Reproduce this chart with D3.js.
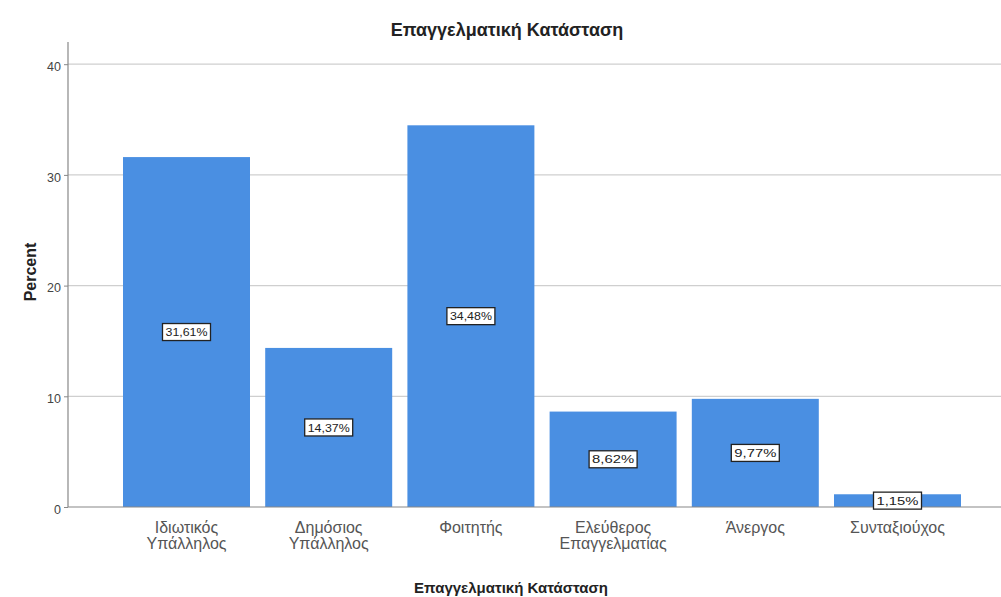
<!DOCTYPE html>
<html>
<head>
<meta charset="utf-8">
<script src="https://cdn.jsdelivr.net/npm/d3@7"></script>
<style>
  html, body { margin: 0; padding: 0; background: #fff; }
  svg { display: block; font-family: "Liberation Sans", Arial, sans-serif; }
</style>
</head>
<body>
<svg id="chart" width="1001" height="597"></svg>
<script>
// Occupational status distribution (percent of respondents)
const categories = [
  ["Ιδιωτικός", "Υπάλληλος"],
  ["Δημόσιος", "Υπάλληλος"],
  ["Φοιτητής"],
  ["Ελεύθερος", "Επαγγελματίας"],
  ["Άνεργος"],
  ["Συνταξιούχος"]
];
const percents = [31.61, 14.37, 34.48, 8.62, 9.77, 1.15];
const yTicks = [0, 10, 20, 30, 40];
const chartTitle = "Επαγγελματική Κατάσταση";
const xTitle = "Επαγγελματική Κατάσταση";
const yTitle = "Percent";

const svg = d3.select("#chart");
const plot = { left: 68, right: 1001, top: 42, bottom: 507 };

const keys = categories.map((c, i) => i);
const x = d3.scaleBand()
  .domain(keys)
  .range([115.4, 968.6])
  .paddingInner(0.107)
  .paddingOuter(0.0535);

const y = d3.scaleLinear()
  .domain([0, 42])
  .range([plot.bottom, plot.bottom - 42 * 11.07]);

// Horizontal gridlines
svg.append("g")
  .selectAll("line")
  .data(yTicks.filter(t => t > 0))
  .join("line")
  .attr("x1", plot.left).attr("x2", plot.right)
  .attr("y1", d => y(d)).attr("y2", d => y(d))
  .attr("stroke", "#cfcfcf").attr("stroke-width", 1.2);

// Y axis
const yAxis = d3.axisLeft(y).tickValues(yTicks).tickSize(4).tickPadding(3);
const gy = svg.append("g").attr("transform", `translate(${plot.left},0)`).call(yAxis);
gy.select(".domain").remove();
gy.selectAll(".tick line").attr("stroke", "#888");
gy.selectAll(".tick text")
  .attr("font-size", 12.5).attr("fill", "#444")
  .attr("font-family", "Liberation Sans, Arial, sans-serif")
  .attr("dy", "0.5em");
svg.append("line")
  .attr("x1", plot.left).attr("x2", plot.left)
  .attr("y1", plot.top).attr("y2", plot.bottom)
  .attr("stroke", "#888").attr("stroke-width", 1.2);

// Bars
svg.append("g")
  .selectAll("rect")
  .data(percents)
  .join("rect")
  .attr("x", (d, i) => x(i))
  .attr("width", x.bandwidth())
  .attr("y", d => y(d))
  .attr("height", d => y(0) - y(d))
  .attr("fill", "#4a8fe2");

// Baseline
svg.append("line")
  .attr("x1", plot.left).attr("x2", plot.right)
  .attr("y1", y(0)).attr("y2", y(0))
  .attr("stroke", "#888").attr("stroke-width", 1.2);

// Value labels in boxes at mid-bar
const fmt = v => v.toFixed(2).replace(".", ",") + "%";
const lbl = svg.append("g")
  .selectAll("g")
  .data(percents)
  .join("g")
  .attr("transform", (d, i) => `translate(${x(i) + x.bandwidth() / 2},${y(d / 2)})`);
lbl.append("rect")
  .attr("x", -24).attr("y", -8.5).attr("width", 48).attr("height", 17)
  .attr("fill", "#fff").attr("stroke", "#222").attr("stroke-width", 1.3);
lbl.append("text")
  .attr("text-anchor", "middle").attr("dy", "0.36em")
  .attr("font-size", 11.5).attr("fill", "#222")
  .attr("textLength", 42).attr("lengthAdjust", "spacingAndGlyphs")
  .text(d => fmt(d));

// Category labels
const cat = svg.append("g")
  .selectAll("text")
  .data(categories)
  .join("text")
  .attr("x", (d, i) => x(i) + x.bandwidth() / 2)
  .attr("y", 533)
  .attr("text-anchor", "middle")
  .attr("font-size", 16).attr("fill", "#555");
cat.selectAll("tspan")
  .data(d => d)
  .join("tspan")
  .attr("x", function () { return this.parentNode.getAttribute("x"); })
  .attr("dy", (d, i) => i === 0 ? 0 : 16)
  .text(d => d);

// Titles
svg.append("text")
  .attr("x", 507).attr("y", 36)
  .attr("text-anchor", "middle")
  .attr("font-size", 18).attr("font-weight", "bold").attr("fill", "#222")
  .text(chartTitle);

svg.append("text")
  .attr("x", 511).attr("y", 593)
  .attr("text-anchor", "middle")
  .attr("font-size", 15).attr("font-weight", "bold").attr("fill", "#222")
  .text(xTitle);

svg.append("text")
  .attr("transform", `translate(36,272) rotate(-90)`)
  .attr("text-anchor", "middle")
  .attr("font-size", 16).attr("font-weight", "bold").attr("fill", "#222")
  .text(yTitle);
</script>
</body>
</html>
